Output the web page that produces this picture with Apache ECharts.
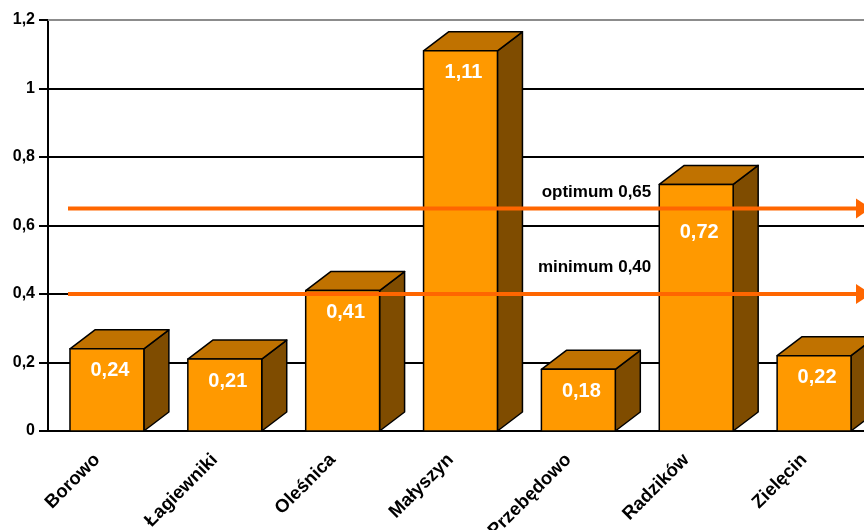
<!DOCTYPE html>
<html>
<head>
<meta charset="utf-8">
<script src="https://cdn.jsdelivr.net/npm/echarts@6/dist/echarts.min.js"></script>
<style>
  html, body { margin: 0; padding: 0; background: #fff; }
  #chart { width: 864px; height: 530px; }
</style>
</head>
<body>
<div id="chart"></div>
<script>
// Sites and measured values
const categories = ['Borowo', 'Łagiewniki', 'Oleśnica', 'Małyszyn', 'Przebędowo', 'Radzików', 'Zielęcin'];
const values = [0.24, 0.21, 0.41, 1.11, 0.18, 0.72, 0.22];

// Reference levels drawn as arrows across the plot
const refLabels = ['optimum 0,65', 'minimum 0,40'];
const refValues = [0.65, 0.40];

const yTicks = [0, 0.2, 0.4, 0.6, 0.8, 1, 1.2];

const fmt = v => String(+v.toFixed(2)).replace('.', ',');
const FONT = '"Liberation Sans", Arial, sans-serif';

const chart = echarts.init(document.getElementById('chart'), null, { renderer: 'canvas' });

// 3D column: front face, top face and right side face, value printed on the front
function renderBar(params, api) {
  const idx = api.value(0);
  const val = api.value(1);
  const top = api.coord([idx, val]);
  const base = api.coord([idx, 0]);
  const band = api.size([1, 0])[0];
  const w = band * 0.627;
  const dx = 25, dy = 19;
  const x0 = top[0] - w / 2, x1 = top[0] + w / 2;
  const y0 = top[1], y1 = base[1];

  // keep the value text clear of the reference arrows
  let ly = y0 + 22;
  refValues.forEach(r => {
    const ry = api.coord([idx, r])[1];
    if (ry > y0 && Math.abs(ry - ly) < 14) ly = ry + 24;
  });

  const stroke = { stroke: '#000', lineWidth: 1.5, lineJoin: 'round' };
  return {
    type: 'group',
    children: [
      {
        type: 'polygon',
        shape: { points: [[x1, y0], [x1 + dx, y0 - dy], [x1 + dx, y1 - dy], [x1, y1]] },
        style: Object.assign({ fill: '#7F4C00' }, stroke)
      },
      {
        type: 'polygon',
        shape: { points: [[x0, y0], [x0 + dx, y0 - dy], [x1 + dx, y0 - dy], [x1, y0]] },
        style: Object.assign({ fill: '#C07200' }, stroke)
      },
      {
        type: 'rect',
        shape: { x: x0, y: y0, width: w, height: y1 - y0 },
        style: Object.assign({ fill: '#FF9900' }, stroke)
      },
      {
        type: 'text',
        z2: 10,
        style: {
          x: top[0] + 3, y: ly,
          text: fmt(val),
          fill: '#fff',
          font: 'bold 20px ' + FONT,
          align: 'center', verticalAlign: 'middle'
        }
      }
    ]
  };
}

// Horizontal orange arrow with its caption
function renderRef(params, api) {
  const idx = api.value(0);
  const val = api.value(1);
  const p = api.coord([idx, val]);
  const band = api.size([1, 0])[0];
  const cs = params.coordSys;
  const xs = cs.x + 20;
  const xe = cs.x + cs.width - 2;
  const head = 15, half = 10;
  return {
    type: 'group',
    children: [
      {
        type: 'line',
        shape: { x1: xs, y1: p[1], x2: xe - head, y2: p[1] },
        style: { stroke: '#FF6600', lineWidth: 4 }
      },
      {
        type: 'polygon',
        shape: { points: [[xe - head, p[1] - half], [xe, p[1]], [xe - head, p[1] + half]] },
        style: { fill: '#FF6600' }
      },
      {
        type: 'text',
        style: {
          x: p[0] - band * 0.627 / 2 - 8, y: p[1] - 8 - params.dataIndex * 10,
          text: refLabels[params.dataIndex],
          fill: '#000',
          font: 'bold 17px ' + FONT,
          align: 'right', verticalAlign: 'bottom'
        }
      }
    ]
  };
}

chart.setOption({
  animation: false,
  backgroundColor: '#fff',
  grid: { left: 48, top: 20, width: 825, height: 411, containLabel: false, outerBoundsMode: 'none' },
  xAxis: {
    type: 'category',
    data: categories,
    axisLine: { lineStyle: { color: '#000', width: 2 } },
    axisTick: { length: 9, lineStyle: { color: '#000', width: 2 } },
    axisLabel: {
      rotate: 45, margin: 16, interval: 0, padding: [0, 14, 0, 0],
      color: '#000', fontFamily: FONT, fontWeight: 'bold', fontSize: 18.5
    }
  },
  yAxis: {
    type: 'value',
    min: 0, max: 1.2, interval: 0.2,
    axisLine: { show: true, lineStyle: { color: '#000', width: 2 } },
    axisTick: { show: true, length: 9, lineStyle: { color: '#000', width: 2 } },
    splitLine: { show: true, lineStyle: { color: '#000', width: 2 } },
    axisLabel: {
      margin: 13,
      color: '#000', fontFamily: FONT, fontWeight: 'bold', fontSize: 16,
      formatter: v => fmt(v)
    }
  },
  series: [
    {
      type: 'custom',
      renderItem: renderBar,
      data: values.map((v, i) => [i, v]),
      encode: { x: 0, y: 1 },
      clip: false,
      z: 2,
      markLine: {
        silent: true, symbol: 'none', label: { show: false },
        lineStyle: { color: '#8c8c8c', width: 2, type: 'solid' },
        data: [{ yAxis: yTicks[yTicks.length - 1] }]
      }
    },
    {
      type: 'custom',
      renderItem: renderRef,
      data: refValues.map(v => [5, v]),
      encode: { x: 0, y: 1 },
      clip: false,
      z: 5
    }
  ]
});
</script>
</body>
</html>
